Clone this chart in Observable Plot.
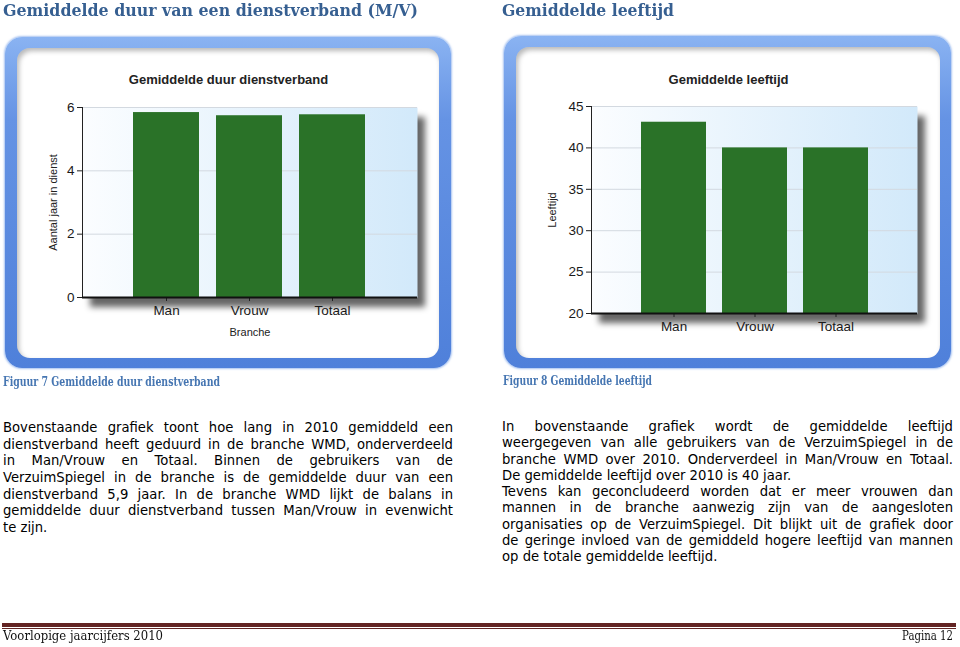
<!DOCTYPE html>
<html><head><meta charset="utf-8">
<script src="https://cdn.jsdelivr.net/npm/d3@7"></script>
<script src="https://cdn.jsdelivr.net/npm/@observablehq/plot@0.6"></script>
<style>
body{margin:0;background:#fff;}
#page{position:relative;width:960px;height:647px;overflow:hidden;background:#fff;}
.abs{position:absolute;white-space:nowrap;transform-origin:0 50%;}
.head{font-family:"DejaVu Serif",serif;font-weight:bold;font-size:17px;line-height:20px;color:#365f91;}
.cap{font-family:"DejaVu Serif",serif;font-weight:bold;font-size:12px;line-height:14px;color:#4676b2;}
.foot{font-family:"DejaVu Serif",serif;font-size:12.5px;line-height:14px;color:#111;}
.frame{position:absolute;border-radius:17px;background:linear-gradient(180deg,#8ab3f2 0%,#6593e4 25%,#4f80da 100%);box-shadow:0 0 2px 1px rgba(130,170,235,0.7);}
.inner{position:absolute;border-radius:13px;background:#fff;box-shadow:inset 2px 3px 5px rgba(0,0,0,0.28);}
.shadow{position:absolute;background:rgba(0,0,0,0.6);filter:blur(3px);}
.line{position:absolute;font-family:"DejaVu Sans",Verdana,sans-serif;font-size:13.2px;line-height:16px;white-space:nowrap;color:#000;}
.chart{position:absolute;}
</style>
</head><body>
<div id="page"></div>
<script>
// ---------- data ----------
const categories = ["Man", "Vrouw", "Totaal"];
const duurValues = [5.84, 5.74, 5.77];
const duurDomain = [0, 6];
const duurTicks = [0, 2, 4, 6];
const leeftijdValues = [43.1, 40.0, 40.0];
const leeftijdDomain = [20, 45];
const leeftijdTicks = [20, 25, 30, 35, 40, 45];

const heading1 = "Gemiddelde duur van een dienstverband (M/V)";
const heading2 = "Gemiddelde leeftijd";
const chartTitle1 = "Gemiddelde duur dienstverband";
const chartTitle2 = "Gemiddelde leeftijd";
const yLabel1 = "Aantal jaar in dienst";
const yLabel2 = "Leeftijd";
const xLabel1 = "Branche";
const caption1 = "Figuur 7 Gemiddelde duur dienstverband";
const caption2 = "Figuur 8 Gemiddelde leeftijd";
const textLeft = [
  "Bovenstaande grafiek toont hoe lang in 2010 gemiddeld een",
  "dienstverband heeft geduurd in de branche WMD, onderverdeeld",
  "in Man/Vrouw en Totaal. Binnen de gebruikers van de",
  "VerzuimSpiegel in de branche is de gemiddelde duur van een",
  "dienstverband 5,9 jaar. In de branche WMD lijkt de balans in",
  "gemiddelde duur dienstverband tussen Man/Vrouw in evenwicht",
  "te zijn."
];
const textLeftLast = [6];
const textRight = [
  "In bovenstaande grafiek wordt de gemiddelde leeftijd",
  "weergegeven van alle gebruikers van de VerzuimSpiegel in de",
  "branche WMD over 2010. Onderverdeel in Man/Vrouw en Totaal.",
  "De gemiddelde leeftijd over 2010 is 40 jaar.",
  "Tevens kan geconcludeerd worden dat er meer vrouwen dan",
  "mannen in de branche aanwezig zijn van de aangesloten",
  "organisaties op de VerzuimSpiegel. Dit blijkt uit de grafiek door",
  "de geringe invloed van de gemiddeld hogere leeftijd van mannen",
  "op de totale gemiddelde leeftijd."
];
const textRightLast = [3, 8];
const footerLeft = "Voorlopige jaarcijfers 2010";
const footerRight = "Pagina 12";

// ---------- layout helpers ----------
const page = document.getElementById("page");
function el(cls, css, text, attrs = {}) {
  const d = document.createElement("div");
  d.className = cls;
  Object.assign(d.style, css);
  if (text != null) d.textContent = text;
  for (const k in attrs) d.setAttribute(k, attrs[k]);
  page.appendChild(d);
  return d;
}

el("abs head", {left: "3px", top: "0px"}, heading1, {"data-w": 415});
el("abs head", {left: "502px", top: "0px"}, heading2, {"data-w": 172});

el("frame", {left: "5px", top: "37px", width: "446px", height: "331px"});
el("inner", {left: "17px", top: "48px", width: "422px", height: "310px"});
el("frame", {left: "504px", top: "36px", width: "447px", height: "332px"});
el("inner", {left: "516px", top: "47px", width: "424px", height: "311px"});

el("abs cap", {left: "3px", top: "375px"}, caption1, {"data-w": 217});
el("abs cap", {left: "503px", top: "374px"}, caption2, {"data-w": 149});

textLeft.forEach((t, i) => {
  el("line", {left: "3px", top: (420 + i * 16.67) + "px"}, t, textLeftLast.includes(i) ? {} : {"data-jw": 450});
});
textRight.forEach((t, i) => {
  el("line", {left: "502px", top: (419 + i * 16.25) + "px"}, t, textRightLast.includes(i) ? {} : {"data-jw": 451});
});

el("abs", {left: "2px", top: "623px", width: "954px", height: "4px", background: "#632423"});
el("abs", {left: "2px", top: "628px", width: "954px", height: "1px", background: "#632423"});
el("abs foot", {left: "3px", top: "629px"}, footerLeft, {"data-w": 160});
el("abs foot", {left: "902px", top: "629px"}, footerRight, {"data-w": 51});

// ---------- charts ----------
function chart(o) {
  const data = categories.map((c, i) => ({cat: c, value: o.values[i]}));
  const [mt, mr, mb, ml] = o.margins;
  // soft drop shadow behind the plotting area
  el("shadow", {left: (o.left + ml + 8) + "px", top: (o.top + mt + 10) + "px",
    width: (o.width - ml - mr) + "px", height: (o.height - mt - mb) + "px"});
  const marks = [
    Plot.frame({fill: `url(#bg-${o.id})`, stroke: "none"}),
    Plot.ruleY(o.ticks, {stroke: "#d3d9e0"}),
    Plot.barY(data, {x: "cat", y1: o.domain[0], y2: "value", fill: "#2a7228"}),
    Plot.axisY({ticks: o.ticks, tickFormat: d3.format("d"), tickSize: 5, tickPadding: 3, label: null, stroke: "#222"}),
    Plot.axisX({tickSize: 4, tickPadding: 4, label: null, stroke: "#222"}),
    Plot.frame({anchor: "left", stroke: "#222"}),
    Plot.ruleY([o.domain[0]], {stroke: "#111", strokeWidth: 2}),
    Plot.text([o.title], {text: d => d, frameAnchor: "top", dx: (mr - ml) / 2, dy: o.titleDy,
      lineAnchor: "middle", textAnchor: "middle", fontWeight: "bold", fontSize: 13, fill: "#222"}),
    Plot.text([o.yLabel], {text: d => d, frameAnchor: "left", rotate: -90, dx: o.yLabelDx,
      lineAnchor: "middle", textAnchor: "middle", fontSize: 11, fill: "#222"})
  ];
  if (o.xLabel) marks.push(Plot.text([o.xLabel], {text: d => d, frameAnchor: "bottom", dy: o.xLabelDy,
    lineAnchor: "middle", textAnchor: "middle", fontSize: 11, fill: "#222"}));
  const svg = Plot.plot({
    width: o.width, height: o.height,
    marginTop: mt, marginRight: mr, marginBottom: mb, marginLeft: ml,
    style: {background: "transparent", fontFamily: "'Liberation Sans', Arial, sans-serif", fontSize: "13.5px", color: "#1a1a1a", overflow: "visible"},
    x: {domain: categories, paddingInner: 0.2, paddingOuter: 0.6},
    y: {domain: o.domain},
    marks
  });
  const s = d3.select(svg);
  const defs = s.insert("defs", ":first-child");
  const g = defs.append("linearGradient").attr("id", `bg-${o.id}`)
    .attr("x1", 0).attr("x2", 1).attr("y1", 0).attr("y2", 0);
  g.append("stop").attr("offset", 0).attr("stop-color", "#fbfdff");
  g.append("stop").attr("offset", 1).attr("stop-color", "#d2e9fa");
  const wrap = el("chart", {left: o.left + "px", top: o.top + "px"});
  wrap.appendChild(svg);
}

chart({id: "a", values: duurValues, domain: duurDomain, ticks: duurTicks,
  title: chartTitle1, yLabel: yLabel1, xLabel: xLabel1,
  left: 17, top: 48, width: 422, height: 310, margins: [59, 22, 61, 65],
  titleDy: -28, yLabelDx: -29, xLabelDy: 35});
chart({id: "b", values: leeftijdValues, domain: leeftijdDomain, ticks: leeftijdTicks,
  title: chartTitle2, yLabel: yLabel2,
  left: 516, top: 47, width: 424, height: 311, margins: [59, 23, 45, 75],
  titleDy: -27, yLabelDx: -39});

// ---------- text fitting ----------
function fit() {
  document.querySelectorAll("[data-w]").forEach(e => {
    e.style.transform = "none";
    const w = e.getBoundingClientRect().width;
    e.style.transform = `scaleX(${+e.dataset.w / w})`;
  });
  document.querySelectorAll("[data-jw]").forEach(e => {
    e.style.wordSpacing = "0px";
    const w = e.getBoundingClientRect().width;
    const spaces = (e.textContent.match(/ /g) || []).length;
    if (spaces) e.style.wordSpacing = ((+e.dataset.jw - w) / spaces) + "px";
  });
}
fit();
if (document.fonts && document.fonts.ready) document.fonts.ready.then(fit);
</script>
</body></html>
